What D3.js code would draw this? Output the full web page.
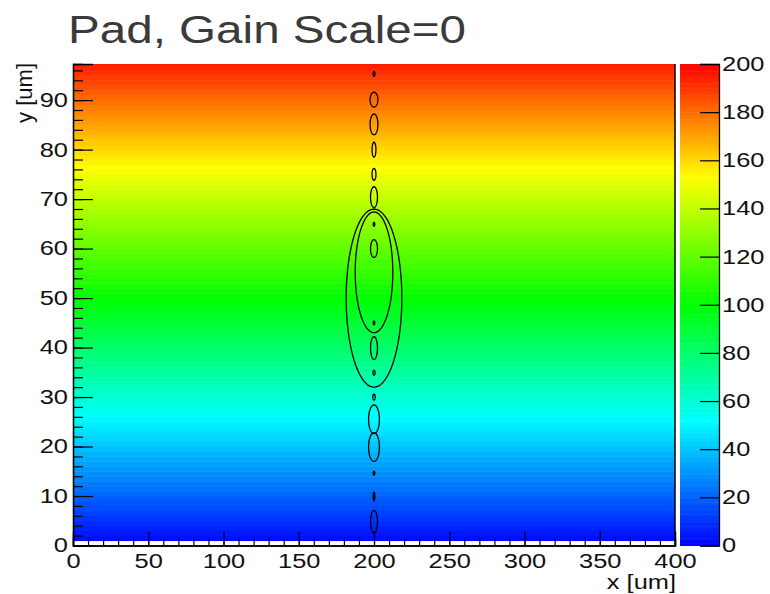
<!DOCTYPE html>
<html>
<head>
<meta charset="utf-8">
<script src="https://cdn.jsdelivr.net/npm/d3@7"></script>
<style>
body { margin: 0; background: #fff; }
text { font-family: "Liberation Sans", Arial, sans-serif; }
</style>
</head>
<body>
<svg id="chart" width="770" height="594"></svg>
<script>
var titleText = 'Pad, Gain Scale=0';
var xTitle = 'x [um]';
var yTitle = 'y [um]';

var xDomain = [0, 400];
var yDomain = [0, 97.3];
var zDomain = [0, 200];

var xMajor = [0, 50, 100, 150, 200, 250, 300, 350, 400];
var yMajor = [0, 10, 20, 30, 40, 50, 60, 70, 80, 90];
var zTicks = [0, 20, 40, 60, 80, 100, 120, 140, 160, 180, 200];

// palette: value -> hue
var zStops = [0, 52, 100, 153, 200];
var hueStops = [240, 180, 120, 60, 0];

// one value per 1 um row, row i covers y = i .. i+1 (row 0 empty)
var rowValues = [
    0,   3,   5,   7,   9,  11,  13,  15,  17,  19,
   21,  23,  25,  27,  29,  31,  33,  35,  37,  39,
   41,  43,  45,  47,  49,  51,  53,  55,  57,  59,
   61,  63,  65,  67,  69,  71,  73,  75,  77,  79,
   81,  83,  85,  87,  89,  91,  93,  95,  97,  99,
  101, 103, 105, 107, 109, 111, 113, 115, 117, 119,
  121, 123, 125, 127, 129, 131, 133, 135, 137, 139,
  141, 143, 145, 147, 149, 151, 153, 155, 157, 159,
  161, 163, 165, 167, 169, 171, 173, 175, 177, 179,
  181, 183, 185, 187, 189, 191, 193, 195
];

// contour loops along x = 200 : centre y, half width, half height
var contourX = 200;
var contourCy = [95.3, 90.1, 85.1, 80.0, 75.0, 70.4, 64.9, 60.0, 50.0, 55.2, 45.0, 39.9, 34.9, 30.0, 25.5, 19.9, 14.6, 9.9, 4.8];
var contourRx = [0.6, 2.6, 2.6, 1.3, 1.3, 2.3, 0.5, 2.3, 18.5, 12.5, 0.5, 2.3, 0.7, 0.8, 3.6, 3.6, 0.5, 0.5, 2.3];
var contourRy = [0.5, 1.5, 2.1, 1.5, 1.2, 2.1, 0.4, 1.8, 18.0, 12.2, 0.4, 2.3, 0.5, 0.6, 2.9, 2.9, 0.4, 0.9, 2.3];

var svg = d3.select('#chart');
var plotLeft = 73, plotRight = 675, plotTop = 64, plotBottom = 545.5;
var barLeft = 680, barRight = 719;
var labelSize = 20, labelStretch = 1.27;

var x = d3.scaleLinear().domain(xDomain).range([plotLeft, plotRight]);
var y = d3.scaleLinear().domain(yDomain).range([plotBottom, plotTop]);
var z = d3.scaleLinear().domain(zDomain).range([plotBottom, plotTop]);
var hue = d3.scaleLinear().domain(zStops).range(hueStops).clamp(true);
function colour(v) { return d3.hsl(hue(v), 1, 0.5).toString(); }

svg.append('rect').attr('width', 770).attr('height', 594).attr('fill', '#fff');

// heat map rows
svg.append('g').selectAll('rect')
    .data(rowValues)
    .enter().append('rect')
    .attr('x', x(xDomain[0]))
    .attr('width', x(xDomain[1]) - x(xDomain[0]))
    .attr('y', function(d, i) { return y(Math.min(i + 1, yDomain[1])); })
    .attr('height', function(d, i) { return y(i) - y(Math.min(i + 1, yDomain[1])) + 0.5; })
    .attr('fill', function(d) { return d > 0 ? colour(d) : '#fff'; });

// contours
var contourData = contourCy.map(function(c, i) { return {cy: c, rx: contourRx[i], ry: contourRy[i]}; });
var line = d3.line()
    .x(function(p) { return x(p[0]); })
    .y(function(p) { return y(p[1]); })
    .curve(d3.curveLinearClosed);
svg.append('g').selectAll('path')
    .data(contourData)
    .enter().append('path')
    .attr('d', function(c) {
        var pts = d3.range(0, 2 * Math.PI, Math.PI / 40).map(function(t) {
            return [contourX + c.rx * Math.cos(t), c.cy + c.ry * Math.sin(t)];
        });
        return line(pts);
    })
    .attr('fill', 'none')
    .attr('stroke', '#000')
    .attr('stroke-width', 1.3);

// colour bar
var barSteps = d3.range(zDomain[0], zDomain[1], 1);
svg.append('g').selectAll('rect')
    .data(barSteps)
    .enter().append('rect')
    .attr('x', barLeft)
    .attr('width', barRight - barLeft)
    .attr('y', function(d) { return z(d + 1); })
    .attr('height', function(d) { return z(d) - z(d + 1) + 0.5; })
    .attr('fill', function(d) { return colour(d + 0.5); });

function stretchLabels(g, sx) {
    g.selectAll('text').each(function() {
        var t = d3.select(this);
        var tx = +t.attr('x') || 0;
        t.attr('x', 0).attr('transform', 'translate(' + tx + ',0) scale(' + sx + ',1)');
    });
}

function styleAxis(g) {
    g.selectAll('.domain').attr('stroke', '#000').attr('stroke-width', 1.3);
    g.selectAll('line').attr('stroke', '#000').attr('stroke-width', 1.2);
    g.selectAll('text').attr('font-size', labelSize).attr('fill', '#111')
        .attr('font-family', '"Liberation Sans", Arial, sans-serif');
}

// y axis
var yAxisG = svg.append('g').attr('transform', 'translate(' + plotLeft + ',0)');
yAxisG.call(d3.axisLeft(y).tickValues(d3.range(0, 97, 2)).tickSize(-10).tickFormat(''));
yAxisG.append('g').call(d3.axisLeft(y).tickValues(yMajor).tickSize(-20).tickPadding(5).tickFormat(d3.format('d')));
styleAxis(yAxisG);
stretchLabels(yAxisG, labelStretch);

// x axis
var xAxisG = svg.append('g').attr('transform', 'translate(0,' + plotBottom + ')');
xAxisG.call(d3.axisBottom(x).tickValues(d3.range(0, 401, 10)).tickSize(-7).tickFormat(''));
xAxisG.append('g').call(d3.axisBottom(x).tickValues(xMajor).tickSize(-14).tickPadding(8).tickFormat(d3.format('d')));
styleAxis(xAxisG);
xAxisG.selectAll('text').attr('transform', 'scale(' + labelStretch + ',1)');

// right frame edge
svg.append('line')
    .attr('x1', plotRight).attr('x2', plotRight).attr('y1', plotTop).attr('y2', plotBottom)
    .attr('stroke', '#000').attr('stroke-width', 1.5);

// colour bar axis
var zAxisG = svg.append('g').attr('transform', 'translate(' + barRight + ',0)');
zAxisG.call(d3.axisRight(z).tickValues(zTicks).tickSize(-19).tickPadding(3).tickFormat(d3.format('d')));
styleAxis(zAxisG);
stretchLabels(zAxisG, labelStretch);

// titles
svg.append('text')
    .attr('transform', 'translate(68,43) scale(1.22,1)')
    .attr('font-size', 39)
    .attr('fill', '#3a3a3a')
    .text(titleText);

svg.append('text')
    .attr('transform', 'translate(676,589) scale(1.27,1)')
    .attr('text-anchor', 'end')
    .attr('font-size', 20)
    .attr('fill', '#111')
    .text(xTitle);

svg.append('text')
    .attr('transform', 'translate(32,63) rotate(-90)')
    .attr('text-anchor', 'end')
    .attr('font-size', 22)
    .attr('fill', '#111')
    .text(yTitle);
</script>
</body>
</html>
